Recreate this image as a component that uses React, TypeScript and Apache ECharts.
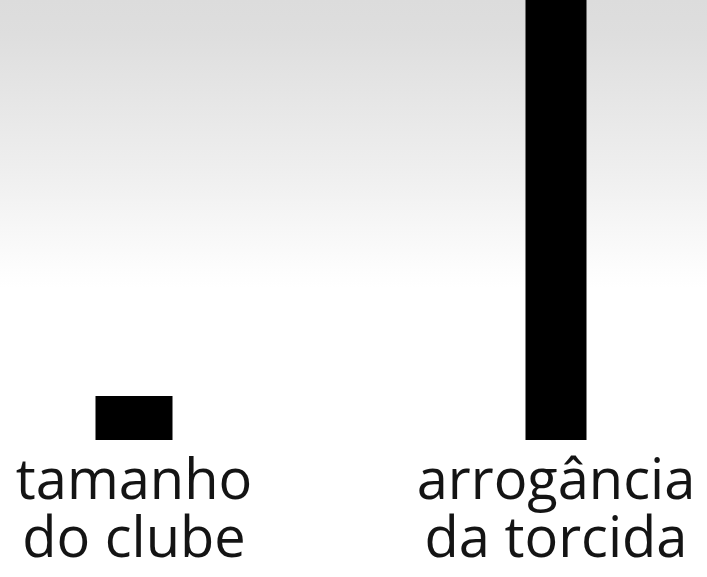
import { useEffect, useRef } from 'react';
import * as echarts from 'echarts';

const categories = ['tamanho\ndo clube', 'arrogância\nda torcida'];
const clubSize = [10, '-'];
const fanArrogance = ['-', 100];

export default function App() {
  const chartRef = useRef<HTMLDivElement>(null);

  useEffect(() => {
    if (!chartRef.current) return;
    document.body.style.margin = '0';
    const chart = echarts.init(chartRef.current, undefined, { renderer: 'svg' });

    const hiddenAxis = {
      type: 'category' as const,
      data: categories,
      axisLine: { show: false },
      axisTick: { show: false },
      splitLine: { show: false },
    };

    const option: any = {
      animation: false,
      backgroundColor: {
        type: 'linear',
        x: 0,
        y: 0,
        x2: 0,
        y2: 1,
        colorStops: [
          { offset: 0, color: '#dcdcdc' },
          { offset: 0.06, color: '#dedede' },
          { offset: 0.3, color: '#efefef' },
          { offset: 0.47, color: '#fdfdfd' },
          { offset: 0.5, color: '#ffffff' },
          { offset: 1, color: '#ffffff' },
        ],
      },
      // grid runs past the canvas so the two category centres land under the bars
      grid: {
        left: -77,
        right: -60,
        top: 0,
        bottom: 137,
        containLabel: false,
        outerBoundsMode: 'none',
      },
      xAxis: [
        {
          ...hiddenAxis,
          axisLabel: {
            color: '#141414',
            fontFamily: 'Open Sans',
            fontSize: 56,
            lineHeight: 58,
            margin: 8,
            interval: 0,
            hideOverlap: false,
          },
        },
        { ...hiddenAxis, axisLabel: { show: false } },
      ],
      yAxis: {
        type: 'value',
        min: 0,
        max: 100,
        show: false,
      },
      series: [
        {
          type: 'bar',
          xAxisIndex: 0,
          data: clubSize,
          barWidth: 77,
          itemStyle: { color: '#000' },
        },
        {
          type: 'bar',
          xAxisIndex: 1,
          data: fanArrogance,
          barWidth: 61,
          itemStyle: { color: '#000' },
        },
      ],
    };

    chart.setOption(option);
    return () => chart.dispose();
  }, []);

  return (
    <div
      ref={chartRef}
      style={{ position: 'fixed', left: 0, top: 0, width: 707, height: 577 }}
    />
  );
}
